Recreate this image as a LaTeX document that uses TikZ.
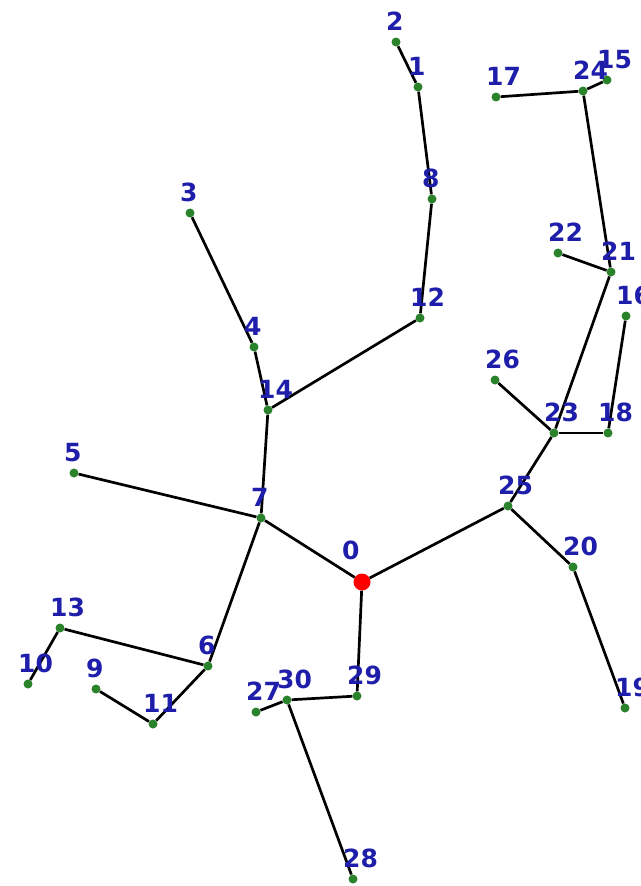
\documentclass[tikz,border=0pt]{standalone}
\usepackage{fontspec}
\setsansfont{DejaVu Sans}
\usetikzlibrary{calc}
\definecolor{LabelBlue}{HTML}{1E1EAA}
\definecolor{DotGreen}{HTML}{2A822A}
\definecolor{RootRed}{HTML}{FF0000}
\tikzset{
  treeNode/.style={circle, fill=DotGreen, minimum size=9pt, inner sep=0pt},
  rootNode/.style={treeNode, fill=RootRed, minimum size=17pt},
  branch/.style={draw=black, line width=2.7pt},
  nodeLabel/.style={anchor=south west, inner sep=0pt, text=LabelBlue, font=\sffamily\bfseries\fontsize{25pt}{25pt}\selectfont}
}

\begin{document}
\begin{tikzpicture}[x=1pt, y=-1pt]
  \useasboundingbox (0,0) rectangle (640,886);
  \clip (0,0) rectangle (640,886);

  % Raiz
  \node[rootNode] (n0) at (362,582) {};

  % Rama izquierda
  \node[treeNode] (n7) at (261,518) {};
  \node[treeNode] (n14) at (268,410) {};
  \node[treeNode] (n4) at (254,347) {};
  \node[treeNode] (n3) at (190,213) {};
  \node[treeNode] (n12) at (420,318) {};
  \node[treeNode] (n8) at (432,199) {};
  \node[treeNode] (n1) at (418,87) {};
  \node[treeNode] (n2) at (396,42) {};
  \node[treeNode] (n5) at (74,473) {};
  \node[treeNode] (n6) at (208,666) {};
  \node[treeNode] (n13) at (60,628) {};
  \node[treeNode] (n10) at (28,684) {};
  \node[treeNode] (n11) at (153,724) {};
  \node[treeNode] (n9) at (96,689) {};

  % Rama inferior
  \node[treeNode] (n29) at (357,696) {};
  \node[treeNode] (n30) at (287,700) {};
  \node[treeNode] (n27) at (256,712) {};
  \node[treeNode] (n28) at (353,879) {};

  % Rama derecha
  \node[treeNode] (n25) at (508,506) {};
  \node[treeNode] (n20) at (573,567) {};
  \node[treeNode] (n19) at (625,708) {};
  \node[treeNode] (n23) at (554,433) {};
  \node[treeNode] (n26) at (495,380) {};
  \node[treeNode] (n18) at (608,433) {};
  \node[treeNode] (n16) at (626,316) {};
  \node[treeNode] (n21) at (611,272) {};
  \node[treeNode] (n22) at (558,253) {};
  \node[treeNode] (n24) at (583,91) {};
  \node[treeNode] (n17) at (496,97) {};
  \node[treeNode] (n15) at (607,80) {};

  % Aristas
  \foreach \a/\b in {0/7, 7/14, 14/4, 4/3, 14/12, 12/8, 8/1, 1/2, 7/5, 7/6,
                     6/13, 13/10, 6/11, 11/9, 0/29, 29/30, 30/27, 30/28,
                     0/25, 25/20, 20/19, 25/23, 23/26, 23/18, 18/16,
                     23/21, 21/22, 21/24, 24/17, 24/15}
    \draw[branch] (n\a) -- (n\b);

  % Etiquetas
  \foreach \i in {1,...,30}
    \node[nodeLabel] at ([shift={(-10,-11)}]n\i) {\i};
  \node[nodeLabel] at ([shift={(-20,-22)}]n0) {0};
\end{tikzpicture}
\end{document}
